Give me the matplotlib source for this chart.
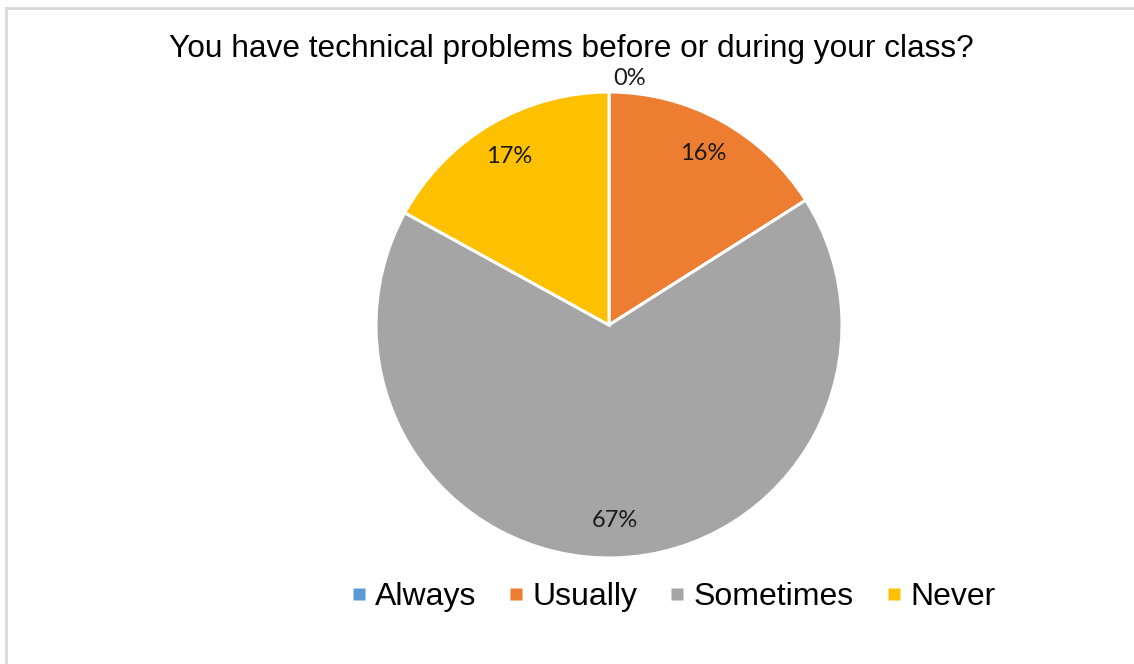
import numpy as np
import matplotlib
matplotlib.use("Agg")
import matplotlib.pyplot as plt
from matplotlib.lines import Line2D

categories = ["Always", "Usually", "Sometimes", "Never"]
shares = [0, 16, 67, 17]
colors = ["#5B9BD5", "#ED7D31", "#A5A5A5", "#FFC000"]
title = "You have technical problems before or during your class?"

W, H = 1134, 664
fig = plt.figure(figsize=(W / 100, H / 100), dpi=100)

# light grey frame around the chart area
fig.add_artist(Line2D([5.5 / W, 1.0], [1 - 7.5 / H, 1 - 7.5 / H], color="#D9D9D9",
                      lw=2.0, transform=fig.transFigure))
fig.add_artist(Line2D([5.5 / W, 5.5 / W], [0, 1 - 7.5 / H], color="#D9D9D9",
                      lw=2.0, transform=fig.transFigure))

cx, cy, r = 609, 325, 233
ax = fig.add_axes([(cx - r) / W, (H - cy - r) / H, 2 * r / W, 2 * r / H])
wedges, _ = ax.pie(shares, colors=colors, startangle=90, counterclock=False,
                   radius=1.0, wedgeprops=dict(edgecolor="white", linewidth=2.2))
ax.set_xlim(-1, 1)
ax.set_ylim(-1, 1)
ax.set_aspect("equal")
ax.axis("off")

# percentage labels at each slice's middle angle; empty slices get an outside label
total = sum(shares)
start = 90.0
for v in shares:
    span = 360.0 * v / total
    mid = np.deg2rad(start - span / 2)
    txt = f"{round(100 * v / total)}%"
    if v > 0:
        ax.text(0.84 * np.cos(mid), 0.84 * np.sin(mid), txt, ha="center", va="center",
                fontsize=17, family="Lato", color="#1a1a1a")
    else:
        ax.annotate(txt, (1.06 * np.cos(mid), 1.06 * np.sin(mid)), xytext=(3, 0),
                    textcoords="offset points", ha="left", va="center",
                    fontsize=17, family="Lato", color="#1a1a1a", annotation_clip=False)
    start -= span

fig.text(571 / W, 1 - 49 / H, title, ha="center", va="center",
         fontsize=22.8, family="Liberation Sans", color="#000000")

handles = [Line2D([], [], marker="s", linestyle="none", markersize=8.2,
                  markerfacecolor=c, markeredgecolor="none") for c in colors]
fig.legend(handles, categories, loc="center", bbox_to_anchor=(673 / W, 1 - 597 / H),
           ncol=4, frameon=False, prop=dict(family="Liberation Sans", size=23),
           handlelength=0.5, handletextpad=0.26, columnspacing=1.0)

fig.savefig("out.png", dpi=100, facecolor="white")
